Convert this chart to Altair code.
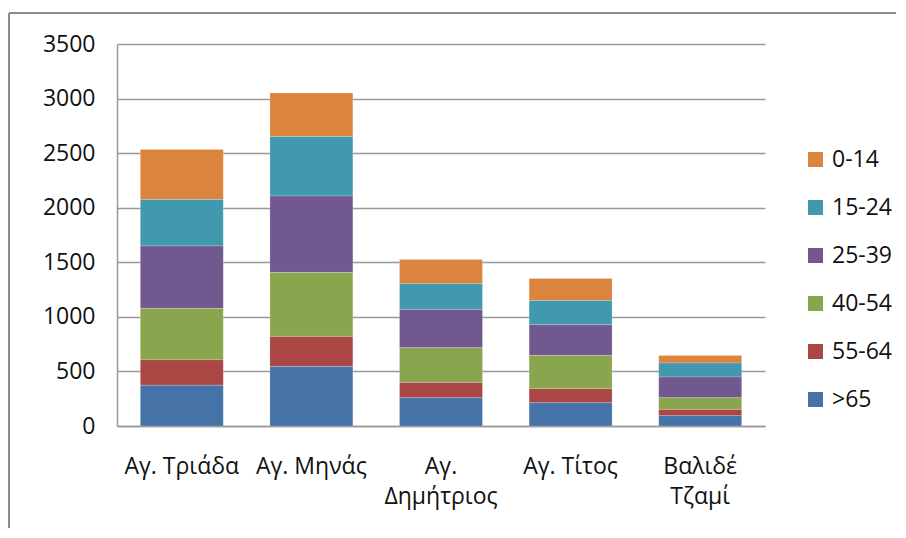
import altair as alt
import pandas as pd

areas = ["Αγ. Τριάδα", "Αγ. Μηνάς", "Αγ. Δημήτριος", "Αγ. Τίτος", "Βαλιδέ Τζαμί"]
groups = ["0-14", "15-24", "25-39", "40-54", "55-64", ">65"]
colors = ["#DB843D", "#4198AF", "#71588F", "#89A54E", "#AA4643", "#4572A7"]

v_0_14 = [458, 399, 223, 202, 70]
v_15_24 = [425, 544, 235, 222, 128]
v_25_39 = [573, 701, 351, 281, 190]
v_40_54 = [470, 586, 318, 305, 107]
v_55_64 = [234, 275, 140, 129, 58]
v_65 = [373, 546, 259, 213, 94]

series = [v_0_14, v_15_24, v_25_39, v_40_54, v_55_64, v_65]
rows = []
for gi, (g, vals) in enumerate(zip(groups, series)):
    for a, v in zip(areas, vals):
        rows.append({"area": a, "group": g, "value": v, "order": len(groups) - gi})
df = pd.DataFrame(rows)

FONT = "Open Sans"
FS = 23

bars = alt.Chart(df).mark_bar(stroke="white", strokeWidth=0.4, strokeOpacity=0.5).encode(
    x=alt.X("area:N", sort=areas, title=None,
            scale=alt.Scale(paddingInner=0.36, paddingOuter=0.18),
            axis=alt.Axis(labelAngle=0, labelFont=FONT, labelFontSize=FS, labelColor="#111",
                          labelExpr="length(datum.label) > 11 ? split(datum.label, ' ') : datum.label",
                          labelLineHeight=30, labelPadding=29, ticks=False,
                          domainColor="#999999", domainWidth=1.5, labelBaseline="top")),
    y=alt.Y("value:Q", stack="zero", title=None,
            scale=alt.Scale(domain=[0, 3500], nice=False),
            axis=alt.Axis(values=[0, 500, 1000, 1500, 2000, 2500, 3000, 3500], format="d",
                          labelFont=FONT, labelFontSize=FS, labelColor="#111",
                          ticks=False, labelPadding=22, grid=True,
                          gridColor="#999999", gridWidth=1.5,
                          domainColor="#999999", domainWidth=1.5)),
    color=alt.Color("group:N", sort=groups,
                    scale=alt.Scale(domain=groups, range=colors),
                    legend=alt.Legend(title=None, orient="none", legendX=687, legendY=104,
                                      symbolType="square", symbolSize=225,
                                      symbolStrokeWidth=0,
                                      labelFont=FONT, labelFontSize=FS, labelColor="#111",
                                      rowPadding=24, labelOffset=5)),
    order=alt.Order("order:Q", sort="ascending"),
)

one = pd.DataFrame({"k": [0]})
frame_left = alt.Chart(one).mark_rule(color="#8C8C8C", strokeWidth=2).encode(
    x=alt.value(-108), y=alt.value(-31), y2=alt.value(484))
frame_top = alt.Chart(one).mark_rule(color="#8C8C8C", strokeWidth=2).encode(
    x=alt.value(-108), x2=alt.value(779), y=alt.value(-31))

chart = alt.layer(frame_left, frame_top, bars).properties(
    width=648, height=382,
    padding={"left": 0, "top": 4, "right": 0, "bottom": 0},
).configure_view(stroke=None)

chart.save("out.html", embed_options={"renderer": "svg", "actions": False})
